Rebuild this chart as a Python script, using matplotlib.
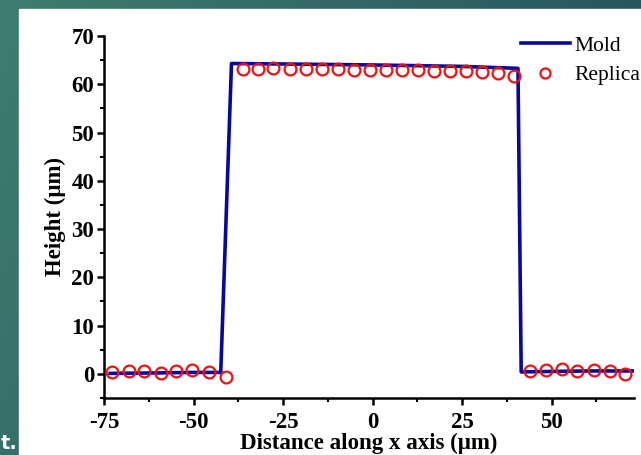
import matplotlib
matplotlib.use("Agg")
import matplotlib.pyplot as plt
from matplotlib.colors import LinearSegmentedColormap
from matplotlib.patches import Rectangle
from matplotlib.ticker import MultipleLocator
import numpy as np

# Mold profile
mold_x = [-73.3, -60, -50, -42.4, -39.4, -25, 0, 25, 40.6, 41.5, 50, 60, 73.0]
mold_y = [0.1, 0.2, 0.3, 0.3, 64.3, 64.2, 64.0, 63.7, 63.3, 0.4, 0.5, 0.6, 0.6]

# Replica measurements
rep_x = [-72.7, -68.1, -63.9, -59.2, -54.8, -50.4, -45.8, -40.9,
         -36.3, -32.0, -27.7, -23.1, -18.6, -14.2, -9.7, -5.2, -0.8,
         3.7, 8.2, 12.6, 17.1, 21.5, 26.0, 30.5, 34.9, 39.4,
         44.0, 48.3, 52.8, 57.1, 61.7, 66.2, 70.6]
rep_y = [0.3, 0.6, 0.5, 0.2, 0.6, 0.7, 0.4, -0.7,
         63.1, 63.2, 63.3, 63.2, 63.2, 63.1, 63.2, 63.0, 63.0,
         63.0, 62.9, 62.9, 62.8, 62.7, 62.7, 62.6, 62.4, 61.7,
         0.5, 0.7, 1.0, 0.5, 0.8, 0.5, 0.0]

plt.rcParams['font.family'] = ['Liberation Serif', 'DejaVu Serif']
plt.rcParams['axes.unicode_minus'] = False

fig = plt.figure(figsize=(6.41, 4.55), dpi=100)

# slide background: teal gradient with a white panel
bg = fig.add_axes([0, 0, 1, 1], zorder=-10)
gx, gy = np.meshgrid(np.linspace(0, 1, 200), np.linspace(0, 1, 200))
cmap = LinearSegmentedColormap.from_list("slide", ["#3f7c71", "#1f4b56"])
bg.imshow(0.75 * gx + 0.25 * gy, cmap=cmap, aspect="auto", extent=[0, 1, 0, 1], origin="upper")
bg.add_patch(Rectangle((19 / 641, 0), 1, 1 - 9 / 455, color="white", transform=bg.transAxes))
bg.text(0.001, 0.004, "t.", color="white", fontsize=14, fontweight="bold",
        family="DejaVu Sans", ha="left", va="bottom", transform=bg.transAxes)
bg.set_xlim(0, 1)
bg.set_ylim(0, 1)
bg.axis("off")

ax = fig.add_axes([104 / 641, 57 / 455, 530 / 641, 362 / 455])
ax.set_facecolor("none")
ax.plot(mold_x, mold_y, color="#0808a0", lw=2.6, label="Mold", zorder=2)
ax.plot(rep_x, rep_y, "o", ms=8.5, mfc="none", mec="#f01010", mew=1.6, label="Replica", zorder=3)

ax.set_xlim(-75, 73)
ax.set_ylim(-5, 70)
ax.xaxis.set_minor_locator(MultipleLocator(12.5))
ax.yaxis.set_minor_locator(MultipleLocator(5))
ax.set_yticks([0, 10, 20, 30, 40, 50, 60, 70])
ax.set_xticks([-75, -50, -25, 0, 25, 50])

for s in ["top", "right"]:
    ax.spines[s].set_visible(False)
for s in ["left", "bottom"]:
    ax.spines[s].set_linewidth(1.8)
ax.tick_params(which="major", direction="out", length=5, width=1.8, labelsize=16.5, pad=2)
ax.tick_params(which="minor", direction="out", length=3, width=1.5)
ax.tick_params(axis="x", which="major", pad=5)
for lab in ax.get_xticklabels() + ax.get_yticklabels():
    lab.set_fontweight("bold")

ax.set_xlabel("Distance along x axis (μm)", fontsize=16.5, fontweight="bold", labelpad=0)
ax.set_ylabel("Height (μm)", fontsize=16.5, fontweight="bold", labelpad=4)

leg = ax.legend(loc="upper left", bbox_to_anchor=(0.77, 1.025), frameon=False,
                fontsize=15.5, handlelength=2.3, handletextpad=0.2, labelspacing=0.45,
                borderaxespad=0, markerscale=0.85)

fig.savefig("out.png", dpi=100)
